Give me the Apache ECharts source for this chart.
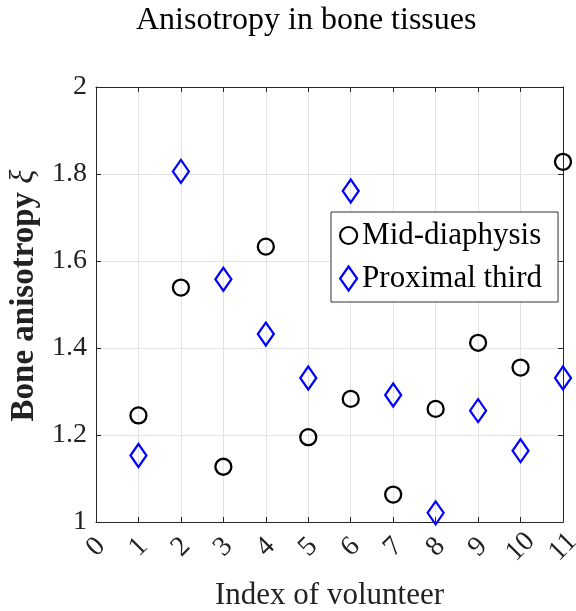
<!DOCTYPE html>
<html><head><meta charset="utf-8">
<script src="https://cdn.jsdelivr.net/npm/echarts@6/dist/echarts.min.js"></script>
<style>html,body{margin:0;padding:0;background:#fff}#c{width:576px;height:611px}</style>
</head><body><div id="c"></div>
<script>
const titleText = 'Anisotropy in bone tissues';
const xAxisName = 'Index of volunteer';
const yAxisNameMain = 'Bone anisotropy';
const yAxisNameSymbol = 'ξ';
const seriesNames = ['Mid-diaphysis', 'Proximal third'];
const volunteers = [1, 2, 3, 4, 5, 6, 7, 8, 9, 10, 11];
const midDiaphysis = [1.245, 1.539, 1.127, 1.633, 1.195, 1.283, 1.063, 1.260, 1.412, 1.355, 1.828];
const proximalThird = [1.153, 1.806, 1.558, 1.432, 1.331, 1.761, 1.292, 1.021, 1.256, 1.164, 1.331];
const xTickValues = [0, 1, 2, 3, 4, 5, 6, 7, 8, 9, 10, 11];
const yTickValues = [1, 1.2, 1.4, 1.6, 1.8, 2];

const FONT = '"Liberation Serif", "Times New Roman", serif';
const AX = '#262626';
const GRID = '#e2e2e2';

const xMin = xTickValues[0], xMax = xTickValues[xTickValues.length - 1], xInt = xTickValues[1] - xTickValues[0];
const yMin = yTickValues[0], yMax = yTickValues[yTickValues.length - 1], yInt = +(yTickValues[1] - yTickValues[0]).toFixed(6);

const chart = echarts.init(document.getElementById('c'), null, {renderer: 'canvas'});

const baseAxisX = {
  type: 'value', min: xMin, max: xMax, interval: xInt,
  axisLine: {onZero: false, lineStyle: {color: AX, width: 1}},
  axisTick: {inside: true, length: 5, lineStyle: {color: AX}},
};
const baseAxisY = {
  type: 'value', min: yMin, max: yMax, interval: yInt,
  axisLine: {onZero: false, lineStyle: {color: AX, width: 1}},
  axisTick: {inside: true, length: 5, lineStyle: {color: AX}},
};

const option = {
  animation: false,
  backgroundColor: '#fff',
  title: {
    text: titleText,
    left: 131, top: 0,
    textStyle: {fontFamily: FONT, fontSize: 32, fontWeight: 'normal', color: '#000'}
  },
  grid: {left: 96, right: 13, top: 87, bottom: 89, containLabel: false, outerBoundsMode: 'none'},
  legend: {
    orient: 'vertical',
    left: 331, top: 212,
    padding: [8, 16, 8, 8],
    itemGap: 12,
    itemWidth: 17, itemHeight: 24,
    backgroundColor: '#fff',
    borderColor: '#333', borderWidth: 1,
    textStyle: {fontFamily: FONT, fontSize: 31, color: '#000'},
    selectedMode: false,
    data: [
      {name: seriesNames[0], icon: 'circle', itemStyle: {color: 'rgba(0,0,0,0)', borderColor: '#000', borderWidth: 2.2}},
      {name: seriesNames[1], icon: 'diamond', itemStyle: {color: 'rgba(0,0,0,0)', borderColor: '#0000ff', borderWidth: 2.2}}
    ]
  },
  xAxis: [
    Object.assign({}, baseAxisX, {
      position: 'bottom',
      name: xAxisName, nameLocation: 'middle', nameGap: 58,
      nameTextStyle: {fontFamily: FONT, fontSize: 31, color: '#222'},
      axisLabel: {
        rotate: 45, margin: 25, align: 'center', verticalAlign: 'middle',
        fontFamily: FONT, fontSize: 28, color: '#222'
      },
      splitLine: {show: true, lineStyle: {color: GRID, width: 1}}
    }),
    Object.assign({}, baseAxisX, {
      position: 'top',
      axisLabel: {show: false},
      splitLine: {show: false}
    })
  ],
  yAxis: [
    Object.assign({}, baseAxisY, {
      position: 'left',
      name: '{s| }{b|' + yAxisNameMain + '} {x|' + yAxisNameSymbol + '}',
      nameLocation: 'middle', nameGap: 44,
      nameTextStyle: {
        fontFamily: FONT, fontSize: 33, color: '#222',
        rich: {
          s: {width: 18, fontFamily: FONT, fontSize: 33},
          b: {fontFamily: FONT, fontSize: 33, fontWeight: 'bold', color: '#222'},
          x: {fontFamily: FONT, fontSize: 33, fontStyle: 'italic', color: '#222'}
        }
      },
      axisLabel: {margin: 9, fontFamily: FONT, fontSize: 28, color: '#222'},
      splitLine: {show: true, lineStyle: {color: GRID, width: 1}}
    }),
    Object.assign({}, baseAxisY, {
      position: 'right',
      axisLabel: {show: false},
      splitLine: {show: false}
    })
  ],
  series: [
    {
      type: 'scatter', name: seriesNames[0], xAxisIndex: 0, yAxisIndex: 0,
      data: volunteers.map((v, i) => [v, midDiaphysis[i]]),
      symbol: 'circle', symbolSize: 16, clip: false,
      itemStyle: {color: 'rgba(0,0,0,0)', borderColor: '#000', borderWidth: 2.3, opacity: 1},
      emphasis: {disabled: true}, z: 5
    },
    {
      type: 'scatter', name: seriesNames[1], xAxisIndex: 0, yAxisIndex: 0,
      data: volunteers.map((v, i) => [v, proximalThird[i]]),
      symbol: 'diamond', symbolSize: [16, 23], clip: false,
      itemStyle: {color: 'rgba(0,0,0,0)', borderColor: '#0000ff', borderWidth: 2.3, opacity: 1},
      emphasis: {disabled: true}, z: 5
    }
  ]
};
chart.setOption(option);
</script>
</body></html>
